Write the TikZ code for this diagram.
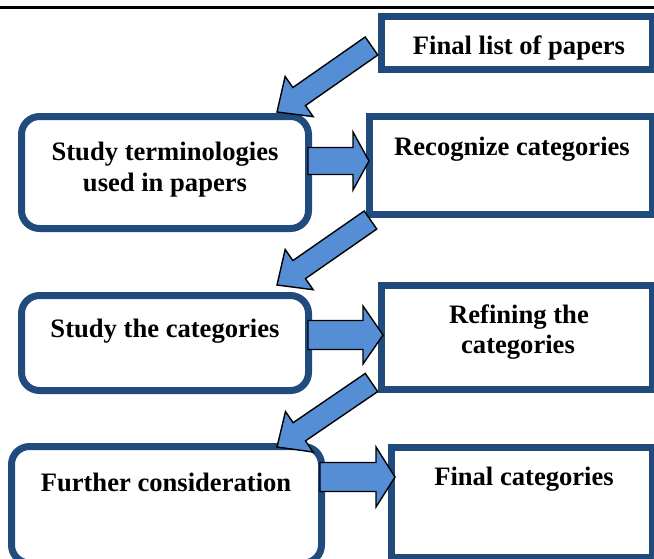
\documentclass[tikz,border=0pt]{standalone}
\usepackage{fontspec}
\setmainfont{Liberation Serif}
\usetikzlibrary{calc}
\definecolor{boxblue}{RGB}{33,74,125}
\definecolor{arrblue}{RGB}{85,142,213}
\newcommand{\blkarrow}[5]{%
  \coordinate (bkH) at ($(#2)!#5!(#1)$);
  \filldraw[blockarr] ($(#1)!#3!90:(#2)$) -- ($(bkH)!#3!90:(#2)$) -- ($(bkH)!#4!90:(#2)$) -- (#2)
    -- ($(bkH)!#4!-90:(#2)$) -- ($(bkH)!#3!-90:(#2)$) -- ($(#1)!#3!-90:(#2)$) -- cycle;}
\begin{document}
\begin{tikzpicture}[x=1pt,y=-1pt,
  box/.style={draw=boxblue, line width=7pt, fill=white, inner sep=0pt, outer sep=0pt},
  rbox/.style={box, rounded corners=18pt},
  lbl/.style={font=\fontsize{26.6}{31}\selectfont\bfseries, anchor=base, inner sep=0pt},
  blockarr/.style={fill=arrblue, draw=black, line width=1.4pt, line join=miter}]
\useasboundingbox (0,0) rectangle (654,558);
% top rule
\coordinate (ruleL) at (0,7.5);
\coordinate (ruleR) at (654,7.5);
\draw[line width=2.5pt] (ruleL) -- (ruleR);
% boxes
\node[box, minimum width=271pt, minimum height=53pt] (fl) at (517,42.7) {};
\node[rbox, minimum width=287pt, minimum height=112pt] (st) at (165,172.5) {};
\node[box, minimum width=283pt, minimum height=98pt] (rc) at (511,165.5) {};
\node[rbox, minimum width=287pt, minimum height=95pt] (sc) at (165,343) {};
\node[box, minimum width=271pt, minimum height=104pt] (rf) at (517,337.5) {};
\node[rbox, minimum width=310pt, minimum height=116.5pt] (fu) at (166.5,504.75) {};
\node[box, minimum width=261pt, minimum height=109.5pt] (fc) at (522,502.25) {};
% labels
\node[lbl] (tfl) at (519,54) {Final list of papers};
\node[lbl] (tst1) at (165,160) {Study terminologies};
\node[lbl] (tst2) at (165,191) {used in papers};
\node[lbl] (trc) at (512,155) {Recognize categories};
\node[lbl] (tsc) at (165,337) {Study the categories};
\node[lbl] (trf1) at (519,323) {Refining the};
\node[lbl] (trf2) at (518,353) {categories};
\node[lbl] (tfu) at (166,491) {Further consideration};
\node[lbl] (tfc) at (524,485) {Final categories};
% arrow end points
\coordinate (d1s) at (371.5,46);  \coordinate (d1e) at (277,112);
\coordinate (d2s) at (370.5,220); \coordinate (d2e) at (277,285);
\coordinate (d3s) at (371.5,382.5); \coordinate (d3e) at (277,447);
\coordinate (hAs) at (308,161); \coordinate (hAe) at (369,161);
\coordinate (hBs) at (308,335); \coordinate (hBe) at (383,335);
\coordinate (hCs) at (320,477); \coordinate (hCe) at (395,477);
% arrows
\blkarrow{d1s}{d1e}{11pt}{24.5pt}{27pt}
\blkarrow{d2s}{d2e}{11pt}{24.5pt}{27pt}
\blkarrow{d3s}{d3e}{11pt}{24.5pt}{27pt}
\blkarrow{hAs}{hAe}{13.5pt}{29pt}{16pt}
\blkarrow{hBs}{hBe}{14.5pt}{29pt}{20pt}
\blkarrow{hCs}{hCe}{14.5pt}{30pt}{19pt}
\end{tikzpicture}
\end{document}
